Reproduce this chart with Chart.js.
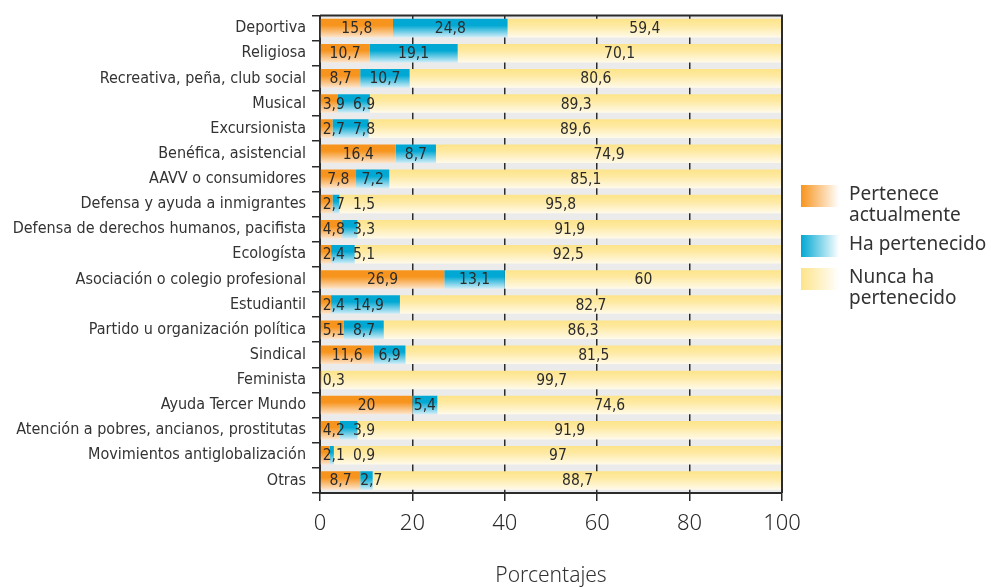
<!DOCTYPE html>
<html>
<head>
<meta charset="utf-8">
<script src="https://cdn.jsdelivr.net/npm/chart.js@4/dist/chart.umd.min.js"></script>
<style>
  html, body { margin: 0; padding: 0; background: #fff; }
  #wrap { width: 991px; height: 587px; }
</style>
</head>
<body>
<div id="wrap"><canvas id="myChart" width="991" height="587"></canvas></div>
<script>
// categorias y series (porcentajes)
var labels = ["Deportiva", "Religiosa", "Recreativa, peña, club social", "Musical", "Excursionista",
  "Benéfica, asistencial", "AAVV o consumidores", "Defensa y ayuda a inmigrantes",
  "Defensa de derechos humanos, pacifista", "Ecologísta", "Asociación o colegio profesional",
  "Estudiantil", "Partido u organización política", "Sindical", "Feminista", "Ayuda Tercer Mundo",
  "Atención a pobres, ancianos, prostitutas", "Movimientos antiglobalización", "Otras"];
var pertenece = [15.8, 10.7, 8.7, 3.9, 2.7, 16.4, 7.8, 2.7, 4.8, 2.4, 26.9, 2.4, 5.1, 11.6, 0.3, 20, 4.2, 2.1, 8.7];
var haPertenecido = [24.8, 19.1, 10.7, 6.9, 7.8, 8.7, 7.2, 1.5, 3.3, 5.1, 13.1, 14.9, 8.7, 6.9, 0, 5.4, 3.9, 0.9, 2.7];
var nunca = [59.4, 70.1, 80.6, 89.3, 89.6, 74.9, 85.1, 95.8, 91.9, 92.5, 60, 82.7, 86.3, 81.5, 99.7, 74.6, 91.9, 97, 88.7];
var xTicks = [0, 20, 40, 60, 80, 100];
var legendNames = [["Pertenece", "actualmente"], ["Ha pertenecido"], ["Nunca ha", "pertenecido"]];

var BAR_PCT = 0.74;
var NARROW = "'DejaVu Sans Condensed', 'Liberation Sans Narrow', sans-serif";
var colores = [
  ["#f7941d", "#fde6cf"],
  ["#00a8d3", "#d3eef8"],
  ["#fde48a", "#fffaea"]
];

function barGrad(i){
  return function(c){
    var chart = c.chart;
    if (c.type !== 'data' || !chart.chartArea) return colores[i][0];
    var y = chart.scales.y.getPixelForValue(c.dataIndex);
    var h = chart.scales.y.height / labels.length * BAR_PCT;
    var g = chart.ctx.createLinearGradient(0, y - h/2, 0, y + h/2);
    g.addColorStop(0, colores[i][0]);
    g.addColorStop(0.35, i === 2 ? "#fee9a0" : colores[i][0]);
    g.addColorStop(1, colores[i][1]);
    return g;
  };
}

function fmt(v){ return String(v).replace(".", ","); }

var fondo = {
  id: 'fondo',
  beforeDraw: function(chart){
    var a = chart.chartArea, g = chart.ctx;
    g.save();
    g.fillStyle = "#ebebeb";
    g.fillRect(a.left, a.top, a.right - a.left, a.bottom - a.top);
    g.restore();
  },
  afterDraw: function(chart){
    var a = chart.chartArea, g = chart.ctx;
    g.save();
    g.strokeStyle = "#2b2b2b";
    g.lineWidth = 2;
    g.beginPath();
    g.moveTo(a.left, a.top); g.lineTo(a.right, a.top); g.lineTo(a.right, a.bottom);
    g.stroke();
    // leyenda
    var lx = a.right + 19;
    var ys = [185, 235, 268];
    g.font = "19px 'Noto Sans'";
    g.textBaseline = "middle";
    for (var i = 0; i < 3; i++){
      var gr = g.createLinearGradient(lx, 0, lx + 38, 0);
      gr.addColorStop(0, colores[i][0]);
      gr.addColorStop(1, "#ffffff");
      g.fillStyle = gr;
      g.fillRect(lx, ys[i], 38, 22);
      g.fillStyle = "#333";
      for (var k = 0; k < legendNames[i].length; k++){
        g.fillText(legendNames[i][k], lx + 48, ys[i] + 10 + k * 21);
      }
    }
    g.restore();
  },
  afterDatasetsDraw: function(chart){
    var g = chart.ctx;
    g.save();
    g.font = "15.5px " + NARROW;
    g.fillStyle = "#2b2b2b";
    g.textBaseline = "middle";
    g.textAlign = "left";
    var n = labels.length;
    for (var j = 0; j < n; j++){
      var prevRight = -1;
      for (var d = 0; d < 3; d++){
        var v = chart.data.datasets[d].data[j];
        if (!v) continue;
        var el = chart.getDatasetMeta(d).data[j];
        var x0 = Math.min(el.x, el.base), x1 = Math.max(el.x, el.base);
        var t = fmt(v), w = g.measureText(t).width;
        var left = (x0 + x1) / 2 - w / 2;
        if (w > x1 - x0 - 2) left = (d === 0) ? x0 + 2 : Math.max(left, x0);
        if (prevRight > 0 && left < prevRight + 8) left = prevRight + 8;
        g.fillText(t, left, el.y + 1);
        prevRight = left + w;
      }
    }
    g.restore();
  }
};

var ctx = document.getElementById("myChart").getContext('2d');
var myChart = new Chart(ctx, {
  type: 'bar',
  data: {
    labels: labels,
    datasets: [
      { label: "Pertenece actualmente", data: pertenece, backgroundColor: barGrad(0) },
      { label: "Ha pertenecido", data: haPertenecido, backgroundColor: barGrad(1) },
      { label: "Nunca ha pertenecido", data: nunca, backgroundColor: barGrad(2) }
    ]
  },
  options: {
    indexAxis: 'y',
    responsive: false,
    animation: false,
    devicePixelRatio: 1,
    layout: { padding: { top: 15, right: 209, left: 0, bottom: 0 } },
    datasets: { bar: { barPercentage: BAR_PCT, categoryPercentage: 1, borderWidth: 0 } },
    plugins: { legend: { display: false }, tooltip: { enabled: false } },
    scales: {
      x: {
        stacked: true, min: 0, max: 100,
        afterBuildTicks: function(s){ s.ticks = xTicks.map(function(v){ return { value: v }; }); },
        afterFit: function(s){ s.height = 94; },
        grid: { color: "#2b2b2b", lineWidth: 1.5, tickLength: 8 },
        border: { color: "#2b2b2b", width: 2 },
        ticks: { color: "#2b2b2b", padding: 10, font: { family: "'Noto Sans'", size: 22, weight: 300 } },
        title: { display: true, text: "Porcentajes", color: "#333", padding: { top: 4, bottom: 0 },
          font: { family: "'Noto Sans'", size: 21, weight: 300, lineHeight: 1 } }
      },
      y: {
        stacked: true,
        afterFit: function(s){ s.width = 320; },
        grid: { offset: true, drawOnChartArea: false, color: "#2b2b2b", lineWidth: 1.5, tickLength: 8 },
        border: { color: "#2b2b2b", width: 2 },
        ticks: { color: "#333", padding: 6, autoSkip: false,
          font: { family: NARROW, size: 16 } }
      }
    }
  },
  plugins: [fondo]
});
</script>
</body>
</html>
